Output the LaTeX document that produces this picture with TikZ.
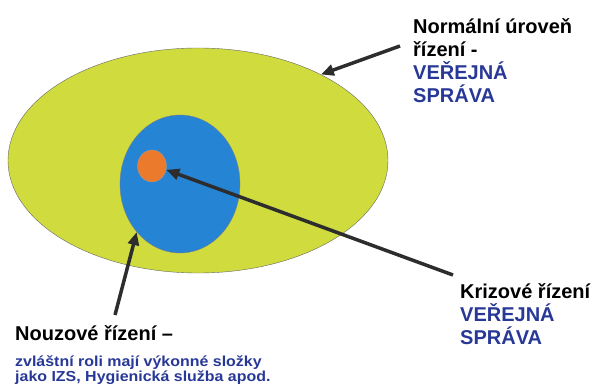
\documentclass[tikz,border=0pt]{standalone}
\usepackage{fontspec}
\setmainfont{Liberation Sans}
\usetikzlibrary{arrows.meta, positioning, shapes.geometric}
\definecolor{zonegreen}{RGB}{208,220,62}
\definecolor{zoneblue}{RGB}{38,132,212}
\definecolor{zoneorange}{RGB}{236,122,44}
\definecolor{labelblue}{RGB}{40,56,150}
\definecolor{arrowgray}{RGB}{45,45,45}

\begin{document}
\begin{tikzpicture}[x=1pt, y=1pt, every node/.style={font=\fontsize{20}{23}\selectfont\bfseries, inner sep=0pt}, >={Triangle[length=13pt, width=11pt]}]
\useasboundingbox (0,0) rectangle (596,383);
\tikzset{pointer/.style={->, arrowgray, line width=3.5pt}}
\node[draw=black!60, fill=zonegreen, ellipse, minimum width=380pt, minimum height=225pt] (normal) at (198,222.5) {};
\node[draw=black!50, fill=zoneblue, ellipse, minimum width=120pt, minimum height=138pt] (emergency) at (180,199) {};
\node[draw=black!40, fill=zoneorange, ellipse, minimum width=29pt, minimum height=32pt] (crisis) at (152,217) {};
% labels
\node[anchor=north west, align=left] (normaltext) at (413,365) {Normální úroveň\\řízení -\\\textcolor{labelblue}{VEŘEJNÁ}\\\textcolor{labelblue}{SPRÁVA}};
\node[anchor=north west, align=left] (crisistext) at (460,100) {Krizové řízení\\\textcolor{labelblue}{VEŘEJNÁ}\\\textcolor{labelblue}{SPRÁVA}};
\node[anchor=north west] (emergencytext) at (15,58) {Nouzové řízení –};
\node[anchor=north west, align=left, labelblue, font=\fontsize{14.5}{12}\selectfont\bfseries, xscale=1.1, transform shape] (emergencynote) at (15,27.5) {zvláštní roli mají výkonné složky\\jako IZS, Hygienická služba apod.};
% arrows
\coordinate (normaltail) at (400,337);
\coordinate (crisistail) at (453,108);
\coordinate (emergencytail) at (115,68);
\draw[pointer] (normaltail) -- (normal.35);
\draw[pointer] (crisistail) -- (crisis.-15);
\draw[pointer] (emergencytail) -- (emergency.228);
\end{tikzpicture}
\end{document}
